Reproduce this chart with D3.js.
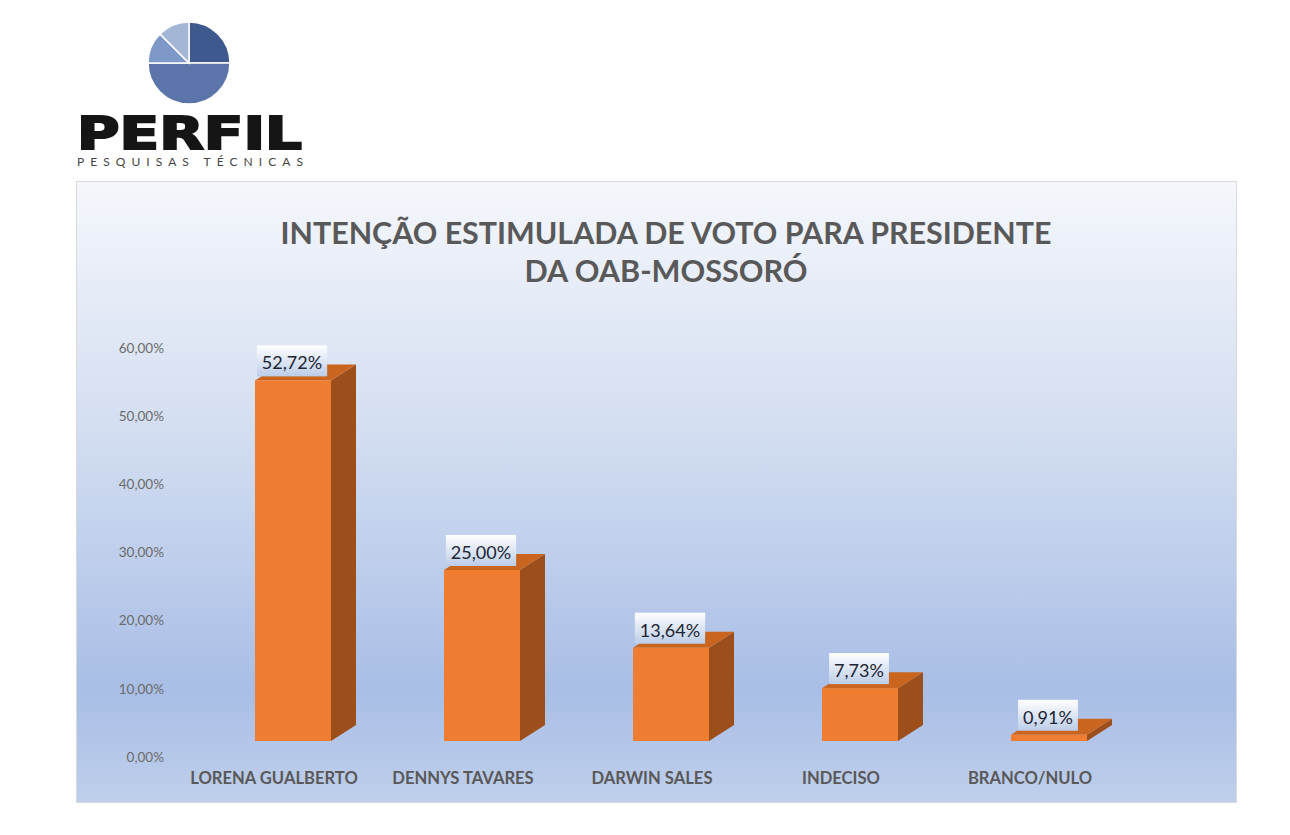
<!DOCTYPE html>
<html>
<head>
<meta charset="utf-8">
<script src="https://cdn.jsdelivr.net/npm/d3@7"></script>
<style>
  body { margin: 0; background: #ffffff; }
  svg { display: block; }
</style>
</head>
<body>
<script>
// chart data
var candidates = ["LORENA GUALBERTO", "DENNYS TAVARES", "DARWIN SALES", "INDECISO", "BRANCO/NULO"];
var votes = [52.72, 25.00, 13.64, 7.73, 0.91];
var tickValues = [0, 10, 20, 30, 40, 50, 60];
var titleLines = ["INTENÇÃO ESTIMULADA DE VOTO PARA PRESIDENTE", "DA OAB-MOSSORÓ"];

// logo pie slices (clockwise from 12 o'clock)
var logoSlices = [2, 4, 1, 1];
var logoColors = ["#3d598d", "#5b75ab", "#7e98c8", "#a4b6d6"];

var width = 1290, height = 835;
var barWidth = 76, depthX = 25, depthY = 16;
var frontColor = "#ee7d31", topColor = "#c9651f", sideColor = "#9c4e1b";

var ptBR = d3.formatLocale({decimal: ",", thousands: ".", grouping: [3], currency: ["R$", ""]});
var fmtTick = ptBR.format(".2f");

var svg = d3.select("body").append("svg")
  .attr("width", width).attr("height", height);

var defs = svg.append("defs");

var bg = defs.append("linearGradient").attr("id", "panel_bg")
  .attr("x1", 0).attr("y1", 0).attr("x2", 0).attr("y2", 1);
bg.append("stop").attr("offset", "0%").attr("stop-color", "#f5f7fc");
bg.append("stop").attr("offset", "40%").attr("stop-color", "#d3def1");
bg.append("stop").attr("offset", "82%").attr("stop-color", "#a9bee6");
bg.append("stop").attr("offset", "100%").attr("stop-color", "#bfcfeb");

var lblBg = defs.append("linearGradient").attr("id", "label_bg")
  .attr("x1", 0).attr("y1", 0).attr("x2", 0).attr("y2", 1);
lblBg.append("stop").attr("offset", "0%").attr("stop-color", "#ffffff");
lblBg.append("stop").attr("offset", "100%").attr("stop-color", "#bccde9");

// ---- logo ----
var logo = svg.append("g").attr("transform", "translate(189,63)");
var pie = d3.pie().sort(null);
var arc = d3.arc().innerRadius(0).outerRadius(41);
logo.selectAll("path").data(pie(logoSlices)).enter().append("path")
  .attr("d", arc)
  .attr("fill", function(d, i) { return logoColors[i]; })
  .attr("stroke", "#ffffff")
  .attr("stroke-width", 1.5);

svg.append("text")
  .attr("x", 77).attr("y", 149)
  .attr("font-family", "DejaVu Sans")
  .attr("font-weight", "bold")
  .attr("font-size", 44)
  .attr("textLength", 225)
  .attr("lengthAdjust", "spacingAndGlyphs")
  .attr("fill", "#151515")
  .attr("stroke", "#151515")
  .attr("stroke-width", 2)
  .text("PERFIL");

svg.append("text")
  .attr("x", 77).attr("y", 166)
  .attr("font-family", "Lato")
  .attr("font-size", 12)
  .attr("textLength", 226)
  .attr("lengthAdjust", "spacing")
  .attr("fill", "#444444")
  .text("PESQUISAS TÉCNICAS");

// ---- chart panel ----
svg.append("rect")
  .attr("x", 76.5).attr("y", 181.5)
  .attr("width", 1160).attr("height", 621)
  .attr("fill", "url(#panel_bg)")
  .attr("stroke", "#d9d9d9");

var title = svg.append("g")
  .attr("font-family", "Lato")
  .attr("font-weight", "bold")
  .attr("font-size", 30)
  .attr("fill", "#595959")
  .attr("text-anchor", "middle");
title.append("text").attr("x", 666).attr("y", 244)
  .attr("textLength", 771).attr("lengthAdjust", "spacingAndGlyphs")
  .text(titleLines[0]);
title.append("text").attr("x", 666).attr("y", 282)
  .attr("textLength", 283).attr("lengthAdjust", "spacingAndGlyphs")
  .text(titleLines[1]);

// scales
var x = d3.scaleBand().domain(candidates).range([179.5, 1124.5]);
var y = d3.scaleLinear().domain([0, 60]).range([741, 330.6]);
var yAxisScale = d3.scaleLinear().domain([0, 60]).range([757, 348]);

// y axis (labels only)
var yAxis = d3.axisLeft(yAxisScale)
  .tickValues(tickValues)
  .tickSize(0)
  .tickPadding(0)
  .tickFormat(function(d) { return fmtTick(d) + "%"; });

var yAxisG = svg.append("g")
  .attr("class", "y_axis")
  .attr("transform", "translate(164,0)")
  .call(yAxis);
yAxisG.select(".domain").remove();
yAxisG.selectAll("text")
  .attr("font-family", "Lato")
  .attr("font-size", 13.5)
  .attr("fill", "#6b6b6b");

// x axis (category labels)
var xAxis = d3.axisBottom(x).tickSize(0).tickPadding(0);
var xAxisG = svg.append("g")
  .attr("class", "x_axis")
  .attr("transform", "translate(0,772)")
  .call(xAxis);
xAxisG.select(".domain").remove();
xAxisG.selectAll("text")
  .attr("font-family", "Lato")
  .attr("font-weight", "bold")
  .attr("font-size", 16.6)
  .attr("fill", "#595959");

// 3D bars
function frontLeft(d) { return x(d.name) + x.bandwidth() / 2 + 19 - barWidth / 2; }

var data = candidates.map(function(c, i) { return {name: c, value: votes[i]}; });

var bars = svg.append("g").attr("class", "bars")
  .selectAll("g.bar").data(data).enter().append("g").attr("class", "bar");

bars.append("path")
  .attr("fill", sideColor)
  .attr("d", function(d) {
    var x1 = frontLeft(d) + barWidth, y0 = y(0), y1 = y(d.value);
    return "M" + x1 + "," + y1 + "L" + (x1 + depthX) + "," + (y1 - depthY) +
           "L" + (x1 + depthX) + "," + (y0 - depthY) + "L" + x1 + "," + y0 + "Z";
  });

bars.append("path")
  .attr("fill", topColor)
  .attr("d", function(d) {
    var x0 = frontLeft(d), y1 = y(d.value);
    return "M" + x0 + "," + y1 + "L" + (x0 + depthX) + "," + (y1 - depthY) +
           "L" + (x0 + barWidth + depthX) + "," + (y1 - depthY) + "L" + (x0 + barWidth) + "," + y1 + "Z";
  });

bars.append("rect")
  .attr("fill", frontColor)
  .attr("x", frontLeft)
  .attr("y", function(d) { return y(d.value); })
  .attr("width", barWidth)
  .attr("height", function(d) { return y(0) - y(d.value); });

// data labels
var labels = bars.append("g").attr("class", "data_label");
labels.append("rect").attr("class", "lbl_box");
labels.append("text")
  .attr("font-family", "Lato")
  .attr("font-size", 18)
  .attr("fill", "#1e2433")
  .attr("text-anchor", "middle")
  .attr("x", function(d) { return frontLeft(d) + barWidth / 2 - 1; })
  .attr("y", function(d) { return y(d.value) - 11; })
  .text(function(d) { return fmtTick(d.value) + "%"; });

labels.each(function() {
  var g = d3.select(this);
  var bb = g.select("text").node().getBBox();
  var bottom = parseFloat(g.select("text").attr("y")) + 7;
  g.select("rect.lbl_box")
    .attr("x", bb.x - 5)
    .attr("y", bottom - 31)
    .attr("width", bb.width + 10)
    .attr("height", 31)
    .attr("fill", "url(#label_bg)");
});
</script>
</body>
</html>
